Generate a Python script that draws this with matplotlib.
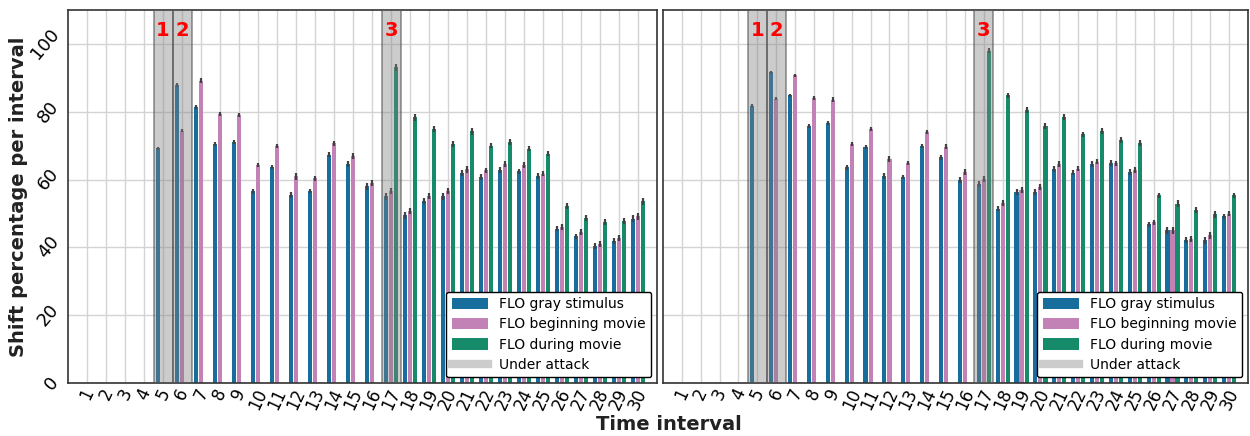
import colorsys
import numpy as np
import matplotlib
matplotlib.use("Agg")
import matplotlib.pyplot as plt
from matplotlib.lines import Line2D
from matplotlib.colors import to_rgb, to_hex

intervals = list(range(1, 31))
series_names = ["FLO gray stimulus", "FLO beginning movie", "FLO during movie"]
attack_intervals = [5, 6, 17]
attack_labels = ["1", "2", "3"]

N = None
# left panel
gray_left = [N, N, N, N, 69.2, 87.9, 81.5, 70.5, 71.0, 56.5, 63.6, 55.5, 56.6, 67.3, 64.6,
             58.0, 55.1, 49.4, 53.8, 55.0, 61.9, 60.7, 62.7, 62.4, 61.0, 45.5, 43.2, 40.3, 42.0, 48.4]
begin_left = [N, N, N, N, N, 74.4, 89.2, 79.4, 78.9, 64.3, 69.8, 60.9, 60.4, 70.7, 66.9,
              59.0, 56.6, 50.7, 55.1, 56.6, 63.0, 62.7, 64.6, 64.3, 61.7, 46.0, 44.5, 41.1, 42.7, 49.1]
during_left = [N, N, N, N, N, N, N, N, N, N, N, N, N, N, N,
               N, 93.1, 78.4, 74.8, 70.5, 74.2, 70.0, 71.0, 69.1, 67.6, 52.2, 48.7, 47.4, 47.9, 53.6]
# right panel
gray_right = [N, N, N, N, 81.8, 91.6, 84.8, 75.9, 76.6, 63.6, 69.5, 61.0, 60.7, 70.0, 66.5,
              59.8, 58.7, 51.4, 56.3, 56.3, 63.2, 62.0, 64.6, 64.9, 62.2, 46.8, 45.0, 42.1, 42.1, 49.1]
begin_right = [N, N, N, N, N, 83.8, 90.7, 84.1, 83.6, 70.5, 75.0, 66.1, 64.9, 74.0, 69.7,
               62.2, 60.2, 53.1, 56.8, 57.7, 64.6, 63.2, 65.3, 64.8, 62.7, 47.4, 45.0, 42.4, 43.5, 49.9]
during_right = [N, N, N, N, N, N, N, N, N, N, N, N, N, N, N,
                N, 98.0, 84.8, 80.4, 75.9, 78.4, 73.3, 74.3, 71.7, 70.7, 55.3, 52.9, 50.9, 49.7, 55.3]
# approximate CI half-length per interval (same for all series)
err_left = [0, 0, 0, 0, 0.4, 0.5, 0.6, 0.6, 0.6, 0.7, 0.6, 0.9, 0.7, 0.7, 0.8,
            1.0, 1.0, 1.0, 0.9, 0.9, 1.0, 0.8, 0.9, 0.8, 0.8, 0.8, 0.8, 0.9, 0.9, 1.0]
err_right = [0, 0, 0, 0, 0.4, 0.4, 0.5, 0.6, 0.6, 0.7, 0.6, 0.9, 0.6, 0.6, 0.8,
             0.9, 0.8, 0.8, 0.9, 0.9, 0.9, 0.8, 0.8, 0.8, 0.9, 0.8, 1.0, 0.9, 1.0, 0.8]


def desaturate(c, prop=0.75):
    h, l, s = colorsys.rgb_to_hls(*to_rgb(c))
    return to_hex(colorsys.hls_to_rgb(h, l, s * prop))


colors = [desaturate(c) for c in ["#0173b2", "#cc78bc", "#029e73"]]

plt.rcParams['font.family'] = ['DejaVu Sans']
fig = plt.figure(figsize=(12.5, 4.36), dpi=100)
ax_l = fig.add_axes([0.0544, 0.1216, 0.4712, 0.8555])
ax_r = fig.add_axes([0.5304, 0.1216, 0.4680, 0.8555])


def draw_panel(ax, data, err, show_y):
    x = np.array(intervals, dtype=float)
    slot = 0.8 / 3
    for i, (vals, col, name) in enumerate(zip(data, colors, series_names)):
        v = np.array([np.nan if a is None else a for a in vals], dtype=float)
        e = np.where(np.isnan(v), np.nan, np.array(err))
        pos = x + (i - 1) * slot
        ax.bar(pos, v, width=0.22, color=col, label=name, zorder=2)
        ax.errorbar(pos, v, yerr=e, fmt='none', ecolor='#424242', elinewidth=1.6,
                    capsize=0, zorder=3)
    for k, lab in zip(attack_intervals, attack_labels):
        ax.axvspan(k - 0.5, k + 0.5, facecolor=(0.5, 0.5, 0.5, 0.4),
                   edgecolor=(0.3, 0.3, 0.3, 0.6), linewidth=1.2, zorder=4)
        ax.text(k, 104, lab, color='red', fontsize=14, fontweight='bold',
                ha='center', va='center', zorder=5)

    ax.set_xlim(0, 31)
    ax.set_ylim(0, 110)
    ax.set_xticks(intervals)
    ax.set_xticklabels([str(i) for i in intervals], rotation=65, fontsize=12,
                       ha='center', va='top')
    ax.set_yticks(range(0, 101, 20))
    if show_y:
        ax.set_yticklabels([str(t) for t in range(0, 101, 20)], rotation=50,
                           fontsize=13, va='center', ha='right')
        ax.set_ylabel("Shift percentage per interval", fontsize=14, fontweight='bold',
                      color='#222222')
        ax.yaxis.set_label_coords(-0.068, 0.5)
    else:
        ax.set_yticklabels([])
    ax.tick_params(axis='x', length=0, pad=2)
    ax.tick_params(axis='y', length=0, pad=4)
    ax.grid(True, color='#d4d4d4', linewidth=1.0, zorder=0)
    ax.set_axisbelow(True)
    for sp in ax.spines.values():
        sp.set_color('#333333')
        sp.set_linewidth(1.2)

    handles, labels = ax.get_legend_handles_labels()
    handles = handles[:3] + [Line2D([0], [0], color='#cccccc', linewidth=6)]
    labels = series_names + ["Under attack"]
    leg = ax.legend(handles, labels, loc='lower right', fontsize=10, framealpha=1,
                    edgecolor='black', fancybox=True, borderaxespad=0.4,
                    handlelength=2.6, handleheight=0.9, labelspacing=0.45)
    leg.set_zorder(10)
    leg.get_frame().set_linewidth(1.0)


draw_panel(ax_l, [gray_left, begin_left, during_left], err_left, True)
draw_panel(ax_r, [gray_right, begin_right, during_right], err_right, False)

fig.text(0.535, 0.005, "Time interval", ha='center', va='bottom', fontsize=14,
         fontweight='bold', color='#222222')

fig.savefig("out.png", dpi=100)
